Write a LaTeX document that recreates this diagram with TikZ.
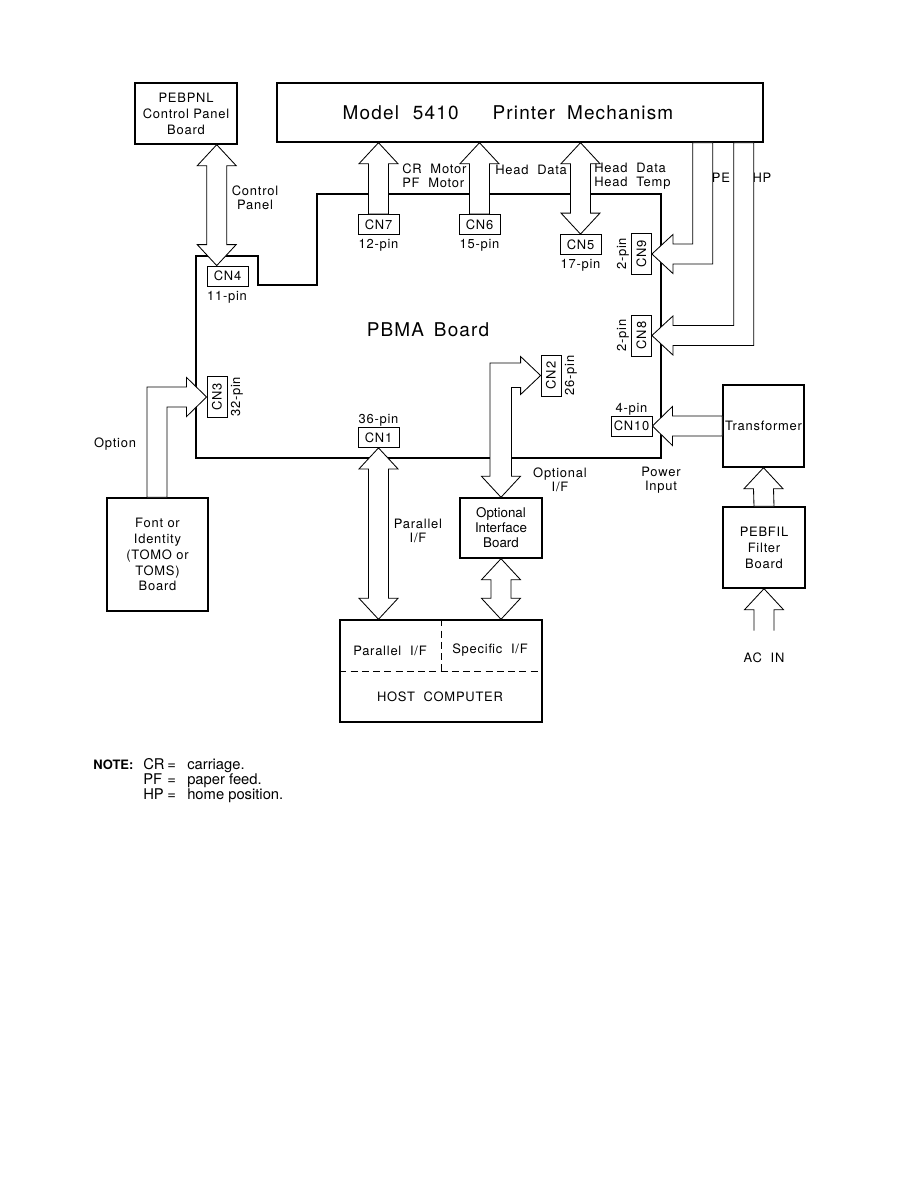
\documentclass[tikz,border=0pt]{standalone}
\usepackage{fontspec}
\setmainfont{TeX Gyre Heros}[LetterSpace=6]
\newfontfamily\notefont{TeX Gyre Heros}
\usetikzlibrary{calc,positioning}

\begin{document}
\begin{tikzpicture}
[
	          x = 0.025cm,
	          y = -0.025cm,
	board/.style = { draw=black, line width=1pt, align=center, inner sep=0pt, font=\fontsize{9.2}{11.3}\selectfont },
	 conn/.style = { draw=black, line width=0.6pt, minimum width=1.025cm, minimum height=0.5cm, inner sep=0pt, font=\fontsize{9.2}{10}\selectfont },
	  lbl/.style = { align=center, inner sep=0pt, font=\fontsize{9.2}{9.8}\selectfont },
	  blk/.style = { draw=black, fill=white, line width=0.6pt },
	  pcb/.style = { draw=black, line width=2pt, line join=miter },
	 note/.style = { inner sep=0pt, anchor=base west, font=\notefont\fontsize{10.5}{12}\selectfont }
]
	\useasboundingbox (0,0) rectangle (915,1185);

	% printer mechanism, panel board
	\node (10) at (520,112.5) [board, minimum width=12.15cm, minimum height=1.475cm] {\fontsize{13.5}{15}\selectfont Model\hspace{0.35cm}5410\hspace{0.85cm}Printer\hspace{0.3cm}Mechanism\hspace{0.6cm}};
	\node (20) at (186,113.5) [board, minimum width=2.55cm, minimum height=1.525cm] {PEBPNL\\Control Panel\\Board};
	\node (21) at (255,198) [lbl] {Control\\Panel};

	% PBMA board
	\draw [pcb] (196,256) -- (258,256) -- (258,285) -- (317,285) -- (317,194) -- (661,194) -- (661,458) -- (196,458) -- cycle;
	\node (50) at (428,330) [lbl, font=\fontsize{13.5}{15}\selectfont] {PBMA\hspace{0.25cm}Board};

	\node (24) at (227.5,276) [conn] {CN4};
	\node (25) at (227,297) [lbl] {11-pin};
	\node (32) at (378.5,224.5) [conn] {CN7};
	\node (36) at (378.5,245) [lbl] {12-pin};
	\node (33) at (479.5,224.5) [conn] {CN6};
	\node (37) at (479.5,245) [lbl] {15-pin};
	\node (34) at (580.5,244.5) [conn] {CN5};
	\node (38) at (580.5,265) [lbl] {17-pin};
	\node (41) at (641.5,254) [conn, rotate=90] {CN9};
	\node (45) at (623,254) [lbl, rotate=90] {2-pin};
	\node (42) at (641.5,335.5) [conn, rotate=90] {CN8};
	\node (46) at (623,335.5) [lbl, rotate=90] {2-pin};
	\node (43) at (631.5,426) [conn] {CN10};
	\node (47) at (631.5,409) [lbl] {4-pin};
	\node (51) at (378.5,437.5) [conn] {CN1};
	\node (54) at (378.5,420) [lbl] {36-pin};
	\node (52) at (551,375.5) [conn, rotate=90] {CN2};
	\node (55) at (571,375.5) [lbl, rotate=90] {26-pin};
	\node (53) at (217,397) [conn, rotate=90] {CN3};
	\node (56) at (237,397) [lbl, rotate=90] {32-pin};

	\node (30) at (402,176) [lbl, anchor=west, align=left] {CR\ \ Motor\\PF\ \ Motor};
	\node (31) at (495,170) [lbl, anchor=west] {Head\ \ Data};
	\node (35) at (594,176) [lbl, anchor=west, align=left] {Head\ \ Data\\Head\ \ Temp};
	\node (40) at (721,178) [lbl] {PE};
	\node (44) at (762,178) [lbl] {HP};

	% power
	\node (61) at (763.5,426) [board, minimum width=2.025cm, minimum height=2.05cm] {Transformer};
	\node (62) at (764,547.5) [board, minimum width=2.05cm, minimum height=2.025cm] {PEBFIL\\Filter\\Board};
	\coordinate (65) at ($(62.south)+(0,42)$);
	\node (64) [lbl, below=0.55cm of 65] {AC\ \ IN};
	\node (48) at (661,480) [lbl] {Power\\Input};

	% interfaces
	\node (71) at (501,528) [board, minimum width=2.05cm, minimum height=1.5cm, font=\notefont\fontsize{9.5}{10.6}\selectfont] {Optional\\Interface\\Board};
	\node (70) at (560,480) [lbl] {Optional\\I/F};
	\node (72) at (418,531) [lbl] {Parallel\\I/F};
	\node (81) at (157.5,554.5) [board, minimum width=2.525cm, minimum height=2.825cm] {Font or\\Identity\\(TOMO or\\TOMS)\\Board};
	\node (80) at (115,444) [lbl] {Option};

	\node (90) at (441,671) [board, minimum width=5.05cm, minimum height=2.55cm] {};
	\draw [line width=0.7pt, dash pattern=on 5pt off 3pt] (90.west) -- (90.east);
	\draw [line width=0.7pt, dash pattern=on 5pt off 3pt] (90.north) -- (90.center);
	\node (91) at (390,651) [lbl] {Parallel\ \ I/F};
	\node (92) at (490,650) [lbl] {Specific\ \ I/F};
	\node (93) at (440,697) [lbl] {HOST\ \ COMPUTER};

	% block arrows
	\coordinate (22) at ($(20.south east)+(-21,0)$);
	\coordinate (23) at (22 |- 24.north);
	\draw [blk] (22) -- ++(19.5,21) -- ++(-9.5,0) -- ($(23)+(10,-21)$) -- ++(9.5,0) -- (23) -- ++(-19.5,-21) -- ++(9.5,0) -- ($(22)+(-10,21)$) -- ++(-9.5,0) -- cycle;

	\coordinate (32a) at (32.north |- 10.south);
	\draw [blk] (32a) -- ++(19.5,21) -- ++(-9.5,0) -- ($(32.north)+(10,0)$) -- ++(-20,0) -- ($(32a)+(-10,21)$) -- ++(-9.5,0) -- cycle;
	\coordinate (33a) at (33.north |- 10.south);
	\draw [blk] (33a) -- ++(19.5,21) -- ++(-9.5,0) -- ($(33.north)+(10,0)$) -- ++(-20,0) -- ($(33a)+(-10,21)$) -- ++(-9.5,0) -- cycle;
	\coordinate (34a) at (34.north |- 10.south);
	\draw [blk] (34a) -- ++(19.5,21) -- ++(-9.5,0) -- ($(34.north)+(10,-21)$) -- ++(9.5,0) -- (34.north) -- ++(-19.5,-21) -- ++(9.5,0) -- ($(34a)+(-10,21)$) -- ++(-9.5,0) -- cycle;

	\draw [blk] (41.south) -- ++(21,-19.5) -- ++(0,9.5) -| ($(10.south east)+(-71,0)$) -- ++(20,0) |- ($(41.south)+(21,10)$) -- ++(0,9.5) -- cycle;
	\draw [blk] (42.south) -- ++(21,-19.5) -- ++(0,9.5) -| ($(10.south east)+(-30,0)$) -- ++(20,0) |- ($(42.south)+(21,10)$) -- ++(0,9.5) -- cycle;
	\draw [blk] (43.east) -- ++(20,-19.5) -- ++(0,9.5) -- ($(61.west)+(0,-10)$) -- ++(0,20) -- ($(43.east)+(20,10)$) -- ++(0,9.5) -- cycle;

	\draw [blk] (61.south) -- ++(19.5,21) -- ++(-9.5,0) -- ($(62.north)+(10,0)$) -- ++(-20,0) -- ($(61.south)+(-10,21)$) -- ++(-9.5,0) -- cycle;
	\draw [blk, fill=none] ($(65)+(-10,0)$) -- ($(62.south)+(-10,21)$) -- ++(-9.5,0) -- (62.south) -- ++(19.5,21) -- ++(-9.5,0) -- ($(65)+(10,0)$);

	\coordinate (51a) at (51.south |- 90.north);
	\draw [blk] (51.south) -- ++(19.5,21) -- ++(-9.5,0) -- ($(51a)+(10,-21)$) -- ++(9.5,0) -- (51a) -- ++(-19.5,-21) -- ++(9.5,0) -- ($(51.south)+(-10,21)$) -- ++(-9.5,0) -- cycle;
	\coordinate (71a) at (71.south |- 90.north);
	\draw [blk] (71.south) -- ++(19.5,21) -- ++(-9.5,0) -- ($(71a)+(10,-21)$) -- ++(9.5,0) -- (71a) -- ++(-19.5,-21) -- ++(9.5,0) -- ($(71.south)+(-10,21)$) -- ++(-9.5,0) -- cycle;

	\draw [blk] (52.north) -- ++(-20,-19) -- ++(0,6.5) -| ($(71.north)+(-11,-21)$) -- ++(-8.5,0) -- (71.north) -- ++(19.5,-21) -- ++(-9,0) |- ($(52.north)+(-20,12)$) -- ++(0,7) -- cycle;
	\draw [blk] (53.north) -- ++(-20,-19.5) -- ++(0,9.5) -| ($(81.north)+(-10.5,0)$) -- ++(20,0) |- ($(53.north)+(-20,10)$) -- ++(0,9.5) -- cycle;

	% notes
	\node (95) at (93,769) [note, font=\notefont\bfseries\fontsize{9.2}{12}\selectfont] {NOTE:};
	\node (96) at (143,769) [note] {\makebox[0.6cm][l]{CR}\makebox[0.5cm][l]{=}carriage.};
	\node (97) at (143,784) [note] {\makebox[0.6cm][l]{PF}\makebox[0.5cm][l]{=}paper feed.};
	\node (98) at (143,799) [note] {\makebox[0.6cm][l]{HP}\makebox[0.5cm][l]{=}home position.};

\end{tikzpicture}
\end{document}
